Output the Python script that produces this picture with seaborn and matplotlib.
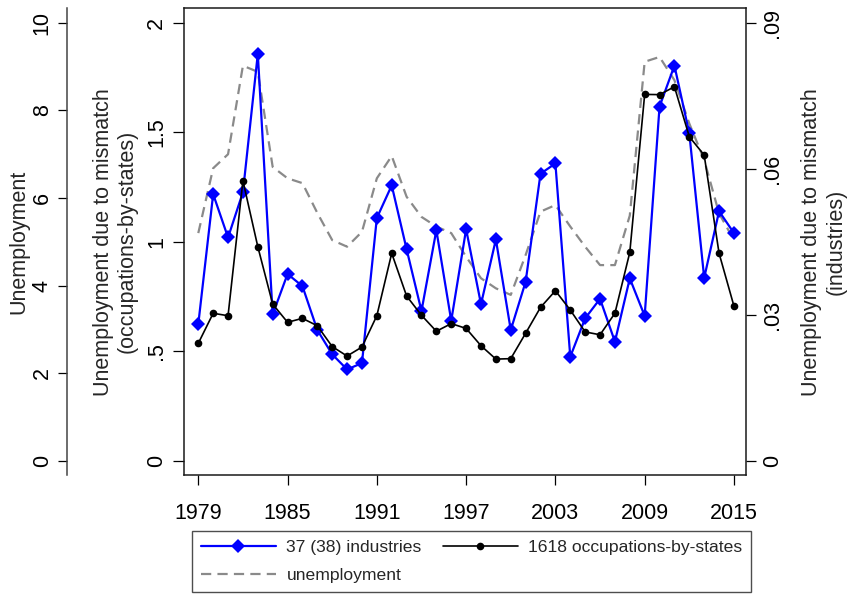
import numpy as np
import pandas as pd
import matplotlib
matplotlib.use("Agg")
import matplotlib.pyplot as plt
import seaborn as sns
from matplotlib.lines import Line2D

# ---------------- data ----------------
years = list(range(1979, 2016))
occupations = [0.537, 0.674, 0.663, 1.279, 0.978, 0.716, 0.633, 0.651, 0.617, 0.522,
               0.479, 0.520, 0.663, 0.948, 0.753, 0.665, 0.592, 0.627, 0.605, 0.526,
               0.465, 0.467, 0.583, 0.701, 0.777, 0.689, 0.589, 0.576, 0.674, 0.952,
               1.673, 1.672, 1.708, 1.480, 1.396, 0.948, 0.707]
industries = [0.0281, 0.0548, 0.0459, 0.0552, 0.0836, 0.0301, 0.0384, 0.0359, 0.0269, 0.0219,
              0.0188, 0.0201, 0.0499, 0.0566, 0.0435, 0.0308, 0.0474, 0.0288, 0.0476, 0.0322,
              0.0455, 0.0269, 0.0368, 0.0590, 0.0611, 0.0214, 0.0293, 0.0333, 0.0245, 0.0375,
              0.0298, 0.0728, 0.0812, 0.0673, 0.0376, 0.0513, 0.0468]
unemployment = [5.20, 6.68, 7.00, 9.02, 8.88, 6.71, 6.45, 6.34, 5.66, 5.04,
                4.89, 5.23, 6.45, 6.96, 6.03, 5.57, 5.35, 5.20, 4.66, 4.17,
                3.94, 3.79, 4.70, 5.69, 5.84, 5.35, 4.89, 4.47, 4.47, 5.60,
                9.11, 9.22, 8.69, 7.70, 6.87, 5.65, 5.04]

xticks = [1979, 1985, 1991, 1997, 2003, 2009, 2015]
occ_ticks = [0, 0.5, 1, 1.5, 2]
occ_ticklabels = ["0", ".5", "1", "1.5", "2"]
ind_ticks = [0, 0.03, 0.06, 0.09]
ind_ticklabels = ["0", ".03", ".06", ".09"]
unemp_ticks = [0, 2, 4, 6, 8, 10]
unemp_ticklabels = ["0", "2", "4", "6", "8", "10"]

label_ind = "37 (38) industries"
label_occ = "1618 occupations-by-states"
label_unemp = "unemployment"

df = pd.DataFrame({"year": years, "occupations": occupations,
                   "industries": industries, "unemployment": unemployment})

# ---------------- style ----------------
sns.set_style("ticks")
plt.rcParams["font.family"] = ["Liberation Sans", "DejaVu Sans"]
plt.rcParams["axes.linewidth"] = 1.1

W, H = 847, 596
fig = plt.figure(figsize=(W / 100, H / 100), dpi=100)
fig.patch.set_facecolor("white")

L, R, T, B = 184.3, 745.7, 8.3, 475.0
ax = fig.add_axes([L / W, 1 - B / H, (R - L) / W, (B - T) / H])
ax_r = ax.twinx()
ax_u = ax.twinx()

ax_u.set_zorder(1)
ax_r.set_zorder(2)
ax.set_zorder(3)
ax.patch.set_visible(False)
ax_r.patch.set_visible(False)
ax_u.patch.set_facecolor("white")

occ_lim = (-0.064, 2.066)
ax.set_ylim(*occ_lim)
ax_r.set_ylim(occ_lim[0] * 0.045, occ_lim[1] * 0.045)
ax_u.set_ylim(occ_lim[0] * 5, occ_lim[1] * 5)
ax.set_xlim(1978.06, 2015.79)

# ---------------- series ----------------
sns.lineplot(data=df, x="year", y="unemployment", ax=ax_u, color="#8a8a8a",
             linewidth=1.6, legend=False)
ax_u.lines[-1].set_linestyle((0, (4.6, 2.8)))

sns.lineplot(data=df, x="year", y="industries", ax=ax_r, color="#0000ff",
             linewidth=1.6, marker="D", markersize=7.6, markeredgewidth=0,
             legend=False)

sns.lineplot(data=df, x="year", y="occupations", ax=ax, color="black",
             linewidth=1.2, marker="o", markersize=5.5, markeredgewidth=0,
             legend=False)

# ---------------- axes ----------------
fs = 15.5
spine_col = "#1a1a1a"
for a in (ax, ax_r, ax_u):
    for s in a.spines.values():
        s.set_visible(False)
ax.spines["left"].set_visible(True)
ax.spines["bottom"].set_visible(True)
ax.spines["top"].set_visible(True)
ax_r.spines["right"].set_visible(True)
for s in (ax.spines["left"], ax.spines["bottom"], ax.spines["top"], ax_r.spines["right"]):
    s.set_color(spine_col)
    s.set_linewidth(1.1)

ax.set_xticks(xticks)
ax.set_xticklabels([str(x) for x in xticks])
ax.tick_params(axis="x", direction="out", length=7.5, width=0.9, pad=13,
               labelsize=fs, colors="black")
ax.set_xlabel("")

ax.set_yticks(occ_ticks)
ax.set_yticklabels(occ_ticklabels, rotation=90, va="center")
ax.tick_params(axis="y", direction="out", length=8, width=0.9, pad=4.5,
               labelsize=fs, colors="black")
ax.set_ylabel("Unemployment due to mismatch\n(occupations-by-states)", fontsize=fs)
ax.yaxis.set_label_coords((138 - L) / (R - L), 0.5)

ax_r.set_yticks(ind_ticks)
ax_r.set_yticklabels(ind_ticklabels, rotation=90, va="center")
ax_r.tick_params(axis="y", direction="out", length=7, width=0.9, pad=5,
                 labelsize=fs, colors="black")
ax_r.set_ylabel("Unemployment due to mismatch\n(industries)", fontsize=fs, rotation=90)
ax_r.yaxis.set_label_coords((801 - L) / (R - L), 0.5)

ax_u.spines["left"].set_visible(True)
ax_u.spines["left"].set_position(("axes", (66.7 - L) / (R - L)))
ax_u.spines["left"].set_color("#444444")
ax_u.spines["left"].set_linewidth(1.1)
ax_u.yaxis.set_ticks_position("left")
ax_u.yaxis.set_label_position("left")
ax_u.set_yticks(unemp_ticks)
ax_u.set_yticklabels(unemp_ticklabels, rotation=90, va="center")
ax_u.tick_params(axis="y", direction="out", length=6.5, width=0.9, pad=3.5,
                 labelsize=fs, colors="black")
ax_u.set_ylabel("Unemployment", fontsize=fs)
ax_u.yaxis.set_label_coords((29 - L) / (R - L), 0.5)

for a in (ax_r, ax_u):
    a.set_xlabel("")

# ---------------- legend ----------------
handles = [
    Line2D([], [], color="#0000ff", linewidth=1.6, marker="D", markersize=7.6,
           markeredgewidth=0),
    Line2D([], [], color="#8a8a8a", linewidth=1.6, linestyle=(0, (4.6, 2.8))),
    Line2D([], [], color="black", linewidth=1.2, marker="o", markersize=5.5,
           markeredgewidth=0),
]
labels = [label_ind, label_unemp, label_occ]
leg = fig.legend(handles, labels, ncol=2, loc="upper left",
                 bbox_to_anchor=(192 / W, 1 - 531 / H),
                 frameon=True, fancybox=False, edgecolor="#222222",
                 fontsize=12.6, handlelength=4.3, handletextpad=0.6,
                 columnspacing=1.2, borderpad=0.5, labelspacing=0.75,
                 borderaxespad=0)
leg.get_frame().set_linewidth(1.0)

fig.savefig("out.png", dpi=100, facecolor="white")
